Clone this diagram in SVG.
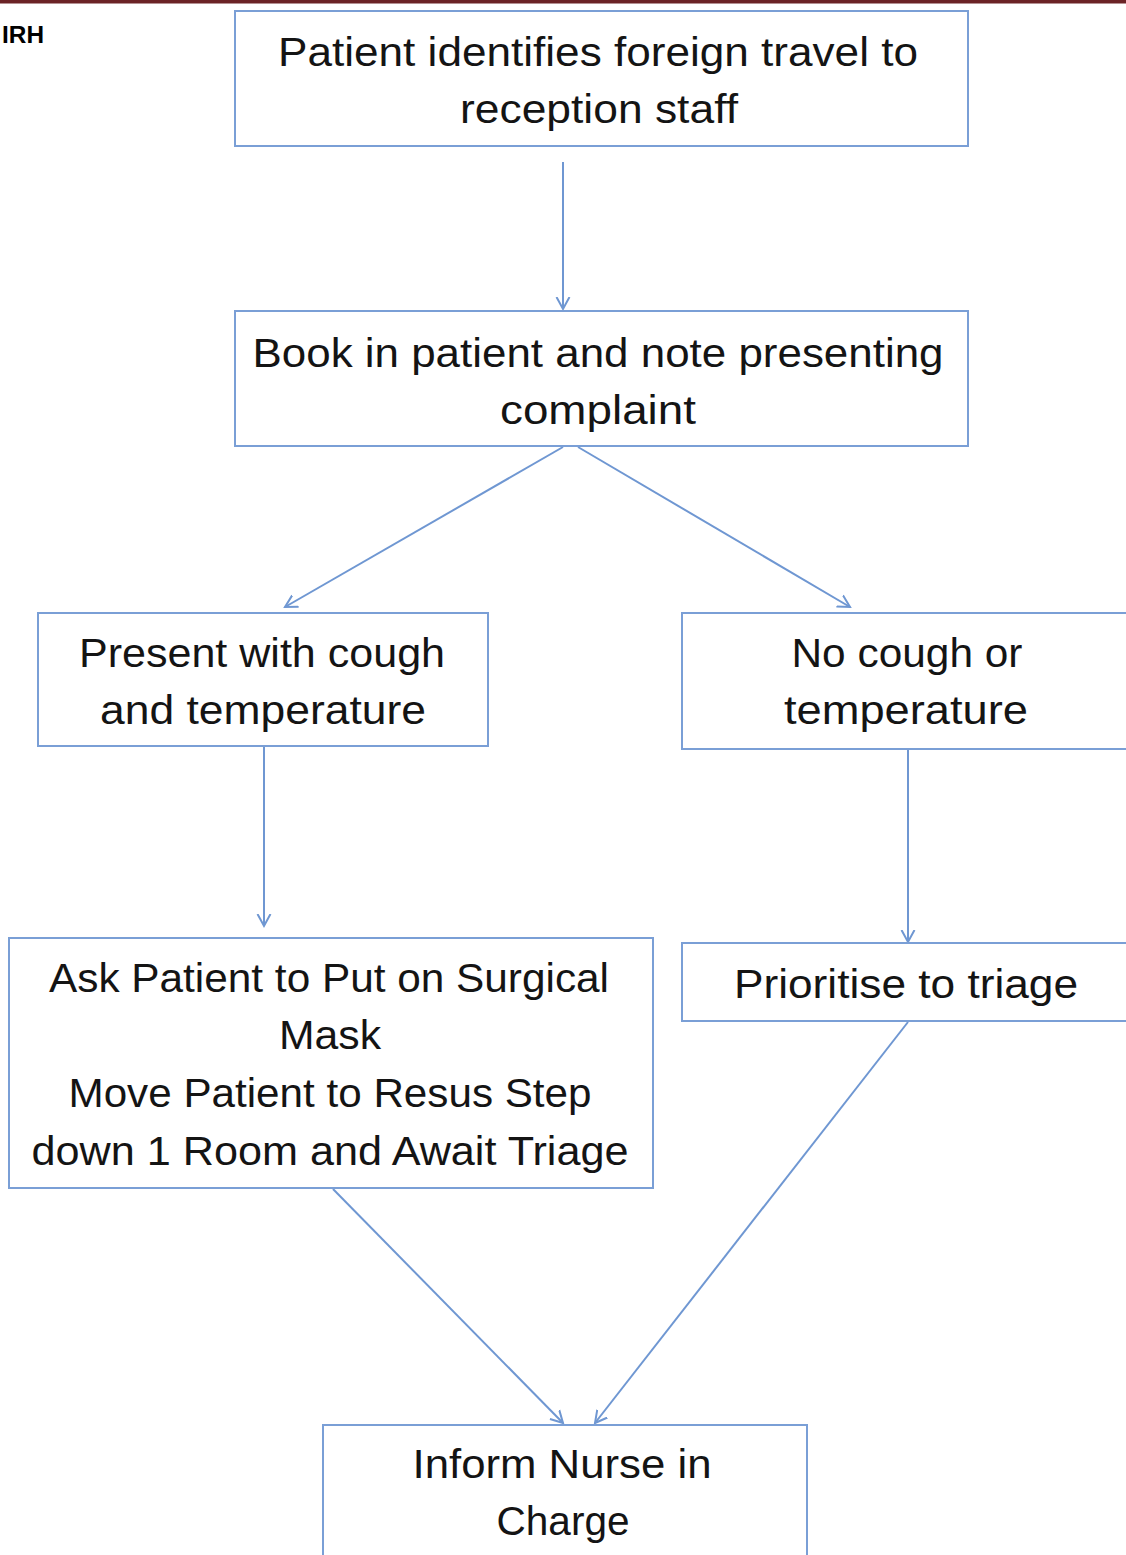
<svg xmlns="http://www.w3.org/2000/svg" width="1126" height="1555" viewBox="0 0 1126 1555">
<style>
.box{fill:#ffffff;stroke:#7a9fd6;stroke-width:2}
.t{font-family:"Liberation Sans",Arial,sans-serif;font-size:40px;fill:#141414;text-anchor:middle}
.c{stroke:#6f97d2;stroke-width:2;fill:none}
</style>
<defs>
<marker id="arr" markerUnits="userSpaceOnUse" markerWidth="24" markerHeight="24" refX="12" refY="12" orient="auto" viewBox="0 0 24 24">
<path d="M0,5.5 L12,12 L0,18.5" fill="none" stroke="#6f97d2" stroke-width="2"/>
</marker>
</defs>
<rect x="0" y="0" width="1126" height="1555" fill="#ffffff"/>
<rect x="0" y="0" width="1126" height="3.5" fill="#6b2326"/>
<text x="2" y="43" font-family="Liberation Sans,Arial,sans-serif" font-weight="bold" font-size="23" fill="#000" textLength="42" lengthAdjust="spacingAndGlyphs">IRH</text>

<g id="connectors">
<line class="c" x1="563" y1="162" x2="563" y2="309" marker-end="url(#arr)"/>
<line class="c" x1="563" y1="447" x2="285" y2="607" marker-end="url(#arr)"/>
<line class="c" x1="578" y1="447" x2="850" y2="607" marker-end="url(#arr)"/>
<line class="c" x1="264" y1="747" x2="264" y2="926" marker-end="url(#arr)"/>
<line class="c" x1="908" y1="749" x2="908" y2="942" marker-end="url(#arr)"/>
<line class="c" x1="333" y1="1189" x2="563" y2="1423" marker-end="url(#arr)"/>
<line class="c" x1="908" y1="1022" x2="595" y2="1423" marker-end="url(#arr)"/>
</g>

<g id="n1">
<rect class="box" x="235" y="11" width="733" height="135"/>
<text class="t" x="598" y="66" textLength="640" lengthAdjust="spacingAndGlyphs">Patient identifies foreign travel to</text>
<text class="t" x="599" y="123" textLength="278" lengthAdjust="spacingAndGlyphs">reception staff</text>
</g>
<g id="n2">
<rect class="box" x="235" y="311" width="733" height="135"/>
<text class="t" x="598" y="367" textLength="691" lengthAdjust="spacingAndGlyphs">Book in patient and note presenting</text>
<text class="t" x="598" y="424" textLength="196" lengthAdjust="spacingAndGlyphs">complaint</text>
</g>
<g id="n3">
<rect class="box" x="38" y="613" width="450" height="133"/>
<text class="t" x="262" y="667" textLength="366" lengthAdjust="spacingAndGlyphs">Present with cough</text>
<text class="t" x="263" y="724" textLength="326" lengthAdjust="spacingAndGlyphs">and temperature</text>
</g>
<g id="n4">
<rect class="box" x="682" y="613" width="460" height="136"/>
<text class="t" x="907" y="667" textLength="231" lengthAdjust="spacingAndGlyphs">No cough or</text>
<text class="t" x="906" y="724" textLength="244" lengthAdjust="spacingAndGlyphs">temperature</text>
</g>
<g id="n5">
<rect class="box" x="9" y="938" width="644" height="250"/>
<text class="t" x="329" y="992" textLength="560" lengthAdjust="spacingAndGlyphs">Ask Patient to Put on Surgical</text>
<text class="t" x="330" y="1049" textLength="102" lengthAdjust="spacingAndGlyphs">Mask</text>
<text class="t" x="330" y="1107" textLength="523" lengthAdjust="spacingAndGlyphs">Move Patient to Resus Step</text>
<text class="t" x="330" y="1165" textLength="597" lengthAdjust="spacingAndGlyphs">down 1 Room and Await Triage</text>
</g>
<g id="n6">
<rect class="box" x="682" y="943" width="460" height="78"/>
<text class="t" x="906" y="998" textLength="344" lengthAdjust="spacingAndGlyphs">Prioritise to triage</text>
</g>
<g id="n7">
<rect class="box" x="323" y="1425" width="484" height="145"/>
<text class="t" x="562" y="1478" textLength="299" lengthAdjust="spacingAndGlyphs">Inform Nurse in</text>
<text class="t" x="563" y="1535" textLength="133" lengthAdjust="spacingAndGlyphs">Charge</text>
</g>
</svg>
